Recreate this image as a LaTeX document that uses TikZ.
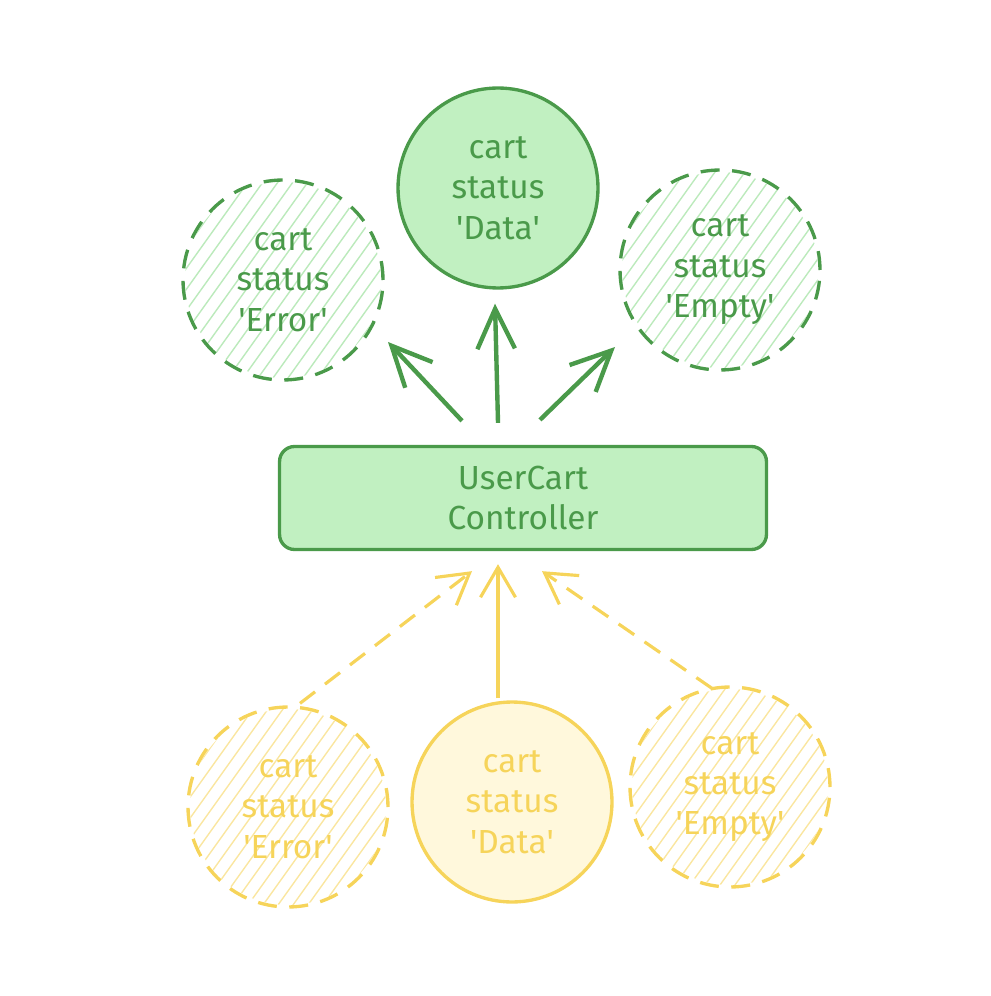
\documentclass[tikz,border=0pt]{standalone}
\usepackage{fontspec}
\setmainfont{Fira Sans}
\usetikzlibrary{arrows.meta,calc,positioning,backgrounds}
\definecolor{gstroke}{HTML}{4A9A4A}
\definecolor{gfill}{HTML}{C1F0C1}
\definecolor{ghatch}{HTML}{BCEABC}
\definecolor{ystroke}{HTML}{F6D45A}
\definecolor{yfill}{HTML}{FFF8DC}
\definecolor{yhatch}{HTML}{FAE6A0}
\tikzstyle{state} = [circle, minimum size=4cm, inner sep=0pt, line width=1.9pt,
align=center, font=\fontsize{19}{23}\selectfont]
\tikzstyle{gstate} = [state, draw=gstroke, text=gstroke]
\tikzstyle{ystate} = [state, draw=ystroke, text=ystroke]
\tikzstyle{maybe} = [dash pattern=on 0.38cm off 0.25cm]
\tikzstyle{ctrlbox} = [rectangle, rounded corners=0.3cm, minimum width=9.74cm,
minimum height=2.06cm, draw=gstroke, fill=gfill, text=gstroke, line width=1.9pt,
align=center, font=\fontsize{19}{23}\selectfont]
\tikzstyle{garrow} = [gstroke, line width=2.5pt, -{Straight Barb[length=0.8cm, width=0.75cm]}]
\tikzstyle{yarrow} = [ystroke, line width=1.8pt, -{Straight Barb[length=0.6cm, width=0.7cm]}]
\newcommand{\q}{\textquotesingle}

\begin{document}
\begin{tikzpicture}[x=0.02cm, y=-0.02cm]
    \useasboundingbox (0,0) rectangle (990,996);
    % states returned to the view
    \node[gstate, fill=gfill] (dataT) at (498,188) {cart\\status\\\q Data\q};
    \node[gstate, maybe] (errT) at (283,280) {cart\\status\\\q Error\q};
    \node[gstate, maybe] (emptyT) at (720,270) {cart\\status\\\q Empty\q};
    \node[ctrlbox] (ctrl) at (523,498) {UserCart\\Controller};
    % states coming in
    \node[ystate, maybe] (errB) at (288,807) {cart\\status\\\q Error\q};
    \node[ystate, fill=yfill] (dataB) at (512,802) {cart\\status\\\q Data\q};
    \node[ystate, maybe] (emptyB) at (730,787) {cart\\status\\\q Empty\q};
    % hatching of the dashed states
    \begin{pgfonlayer}{background}
        \foreach \n/\c in {errT/ghatch, emptyT/ghatch, errB/yhatch, emptyB/yhatch} {
            \begin{scope}
                \clip (\n.center) circle (98);
                \foreach \k in {-11,...,11}
                    \draw[\c, line width=0.8pt] ($(\n.center)+(\k*15-100,140)$) -- ($(\n.center)+(\k*15+100,-140)$);
            \end{scope}
        }
    \end{pgfonlayer}
    % out
    \draw[garrow] ($(ctrl.north)+(-61,-24)$) -- ($(errT.center)+(105,62)$);
    \draw[garrow] ($(ctrl.north)+(-25,-22)$) -- ($(dataT.south)+(-3,14)$);
    \draw[garrow] ($(ctrl.north)+(17,-25)$) -- ($(emptyT.center)+(-105,77)$);
    % in
    \draw[yarrow, maybe] ($(errB.north)+(12,-2)$) -- ($(ctrl.south)+(-51,20)$);
    \draw[yarrow] ($(dataB.north)+(-14,-2)$) -- ($(ctrl.south)+(-25,13)$);
    \draw[yarrow, maybe] ($(emptyB.north)+(-18,3)$) -- ($(ctrl.south)+(19,20)$);
\end{tikzpicture}
\end{document}
